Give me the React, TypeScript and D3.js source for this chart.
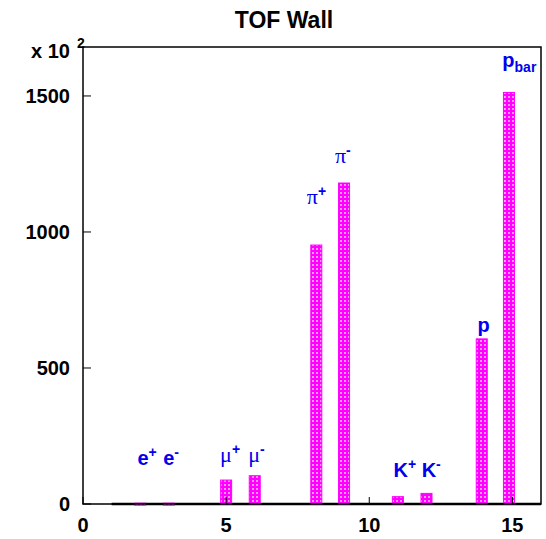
import React, { useEffect, useRef } from 'react';
import * as d3 from 'd3';

// histogram bin centres (as drawn) and counts in units of 10^2
const bins = [2, 3, 5, 6, 8.15, 9.12, 11, 12, 13.93, 14.88];
const counts = [3, 3, 88, 104, 952, 1180, 27, 39, 607, 1513];
const names = ['e', 'e', 'μ', 'μ', 'π', 'π', 'K', 'K', 'p', 'p'];
const scripts = ['+', '-', '+', '-', '+', '-', '+', '-', '', 'bar'];
const labelX = [1.9, 2.8, 4.79, 5.77, 7.82, 8.8, 10.85, 11.83, 13.78, 14.65];
const labelY = [143, 143, 154, 154, 1103, 1254, 99, 99, 632, 1607];
const xTicks = [0, 5, 10, 15];
const yTicks = [0, 500, 1000, 1500];

const W = 546;
const H = 539;

const App: React.FC = () => {
  const svgRef = useRef<SVGSVGElement>(null);

  useEffect(() => {
    if (!svgRef.current) return;
    const margin = { top: 47, right: 5, bottom: 35, left: 83 };
    const width = W - margin.left - margin.right;
    const height = H - margin.top - margin.bottom;

    const svg = d3.select(svgRef.current);
    svg.selectAll('*').remove();

    const defs = svg.append('defs');
    const pat = defs.append('pattern')
      .attr('id', 'hatch')
      .attr('patternUnits', 'userSpaceOnUse')
      .attr('width', 4)
      .attr('height', 4);
    pat.append('rect').attr('width', 4).attr('height', 4).attr('fill', '#ff00ff');
    pat.append('rect').attr('x', 1).attr('y', 1).attr('width', 2).attr('height', 2)
      .attr('fill', '#ffffff').attr('opacity', 0.6);

    svg.append('text')
      .attr('x', 284)
      .attr('y', 28)
      .attr('text-anchor', 'middle')
      .attr('font-family', 'Liberation Sans, Arial, sans-serif')
      .attr('font-weight', 'bold')
      .attr('font-size', '23px')
      .text('TOF Wall');

    const g = svg.append('g')
      .attr('transform', `translate(${margin.left},${margin.top})`);

    const x = d3.scaleLinear().domain([0, 16]).range([0, width]);
    const y = d3.scaleLinear().domain([0, 1680]).range([height, 0]);
    const bw = 11;

    // zero baseline of the histogram
    g.append('line')
      .attr('x1', x(1)).attr('x2', x(16))
      .attr('y1', y(0)).attr('y2', y(0))
      .attr('stroke', '#000').attr('stroke-width', 2.5);

    g.selectAll('rect.bar')
      .data(counts)
      .enter()
      .append('rect')
      .attr('class', 'bar')
      .attr('x', (_, i) => x(bins[i]) - bw / 2)
      .attr('y', d => y(d))
      .attr('width', bw)
      .attr('height', d => Math.max(2, y(0) - y(d)))
      .attr('fill', 'url(#hatch)')
      .attr('stroke', '#ff00ff')
      .attr('stroke-width', 1);

    // frame
    g.append('rect')
      .attr('width', width).attr('height', height)
      .attr('fill', 'none').attr('stroke', '#000').attr('stroke-width', 1.5);

    // ticks (inward)
    g.selectAll('line.xt')
      .data(xTicks)
      .enter()
      .append('line')
      .attr('x1', d => x(d)).attr('x2', d => x(d))
      .attr('y1', height).attr('y2', height - 7)
      .attr('stroke', '#000').attr('stroke-width', 1);
    g.selectAll('line.yt')
      .data(yTicks)
      .enter()
      .append('line')
      .attr('x1', 0).attr('x2', 8)
      .attr('y1', d => y(d)).attr('y2', d => y(d))
      .attr('stroke', '#000').attr('stroke-width', 1);

    const font = 'Liberation Sans, Arial, sans-serif';
    g.selectAll('text.xl')
      .data(xTicks)
      .enter()
      .append('text')
      .attr('x', d => x(d))
      .attr('y', height + 28)
      .attr('text-anchor', 'middle')
      .attr('font-family', font)
      .attr('font-weight', 'bold')
      .attr('font-size', '20px')
      .text(d => String(d));
    g.selectAll('text.yl')
      .data(yTicks)
      .enter()
      .append('text')
      .attr('x', -13)
      .attr('y', d => y(d) + 7)
      .attr('text-anchor', 'end')
      .attr('font-family', font)
      .attr('font-weight', 'bold')
      .attr('font-size', '20px')
      .text(d => String(d));

    // exponent label
    g.append('text')
      .attr('x', -13)
      .attr('y', 11)
      .attr('text-anchor', 'end')
      .attr('font-family', font)
      .attr('font-weight', 'bold')
      .attr('font-size', '20px')
      .text('x 10');
    g.append('text')
      .attr('x', -6)
      .attr('y', 1)
      .attr('font-family', font)
      .attr('font-weight', 'bold')
      .attr('font-size', '14px')
      .text('2');

    // particle labels
    names.forEach((n, i) => {
      const greek = n === 'μ' || n === 'π';
      const t = g.append('text')
        .attr('x', x(labelX[i]))
        .attr('y', y(labelY[i]))
        .attr('fill', '#0000ee')
        .attr('font-family', greek ? 'Liberation Serif, serif' : font)
        .attr('font-weight', greek ? 'normal' : 'bold')
        .attr('font-size', greek ? '22px' : '20px');
      t.append('tspan').text(n);
      const s = scripts[i];
      if (s === 'bar') {
        t.append('tspan')
          .attr('font-family', font)
          .attr('font-weight', 'bold')
          .attr('font-size', '14px')
          .attr('dy', 5)
          .text(s);
      } else if (s) {
        t.append('tspan')
          .attr('font-family', font)
          .attr('font-weight', 'bold')
          .attr('font-size', '14px')
          .attr('dy', -8)
          .text(s);
      }
    });
  }, []);

  return (
    <svg
      ref={svgRef}
      width={W}
      height={H}
      style={{ position: 'absolute', left: 0, top: 0, background: '#fff' }}
    />
  );
};

export default App;
